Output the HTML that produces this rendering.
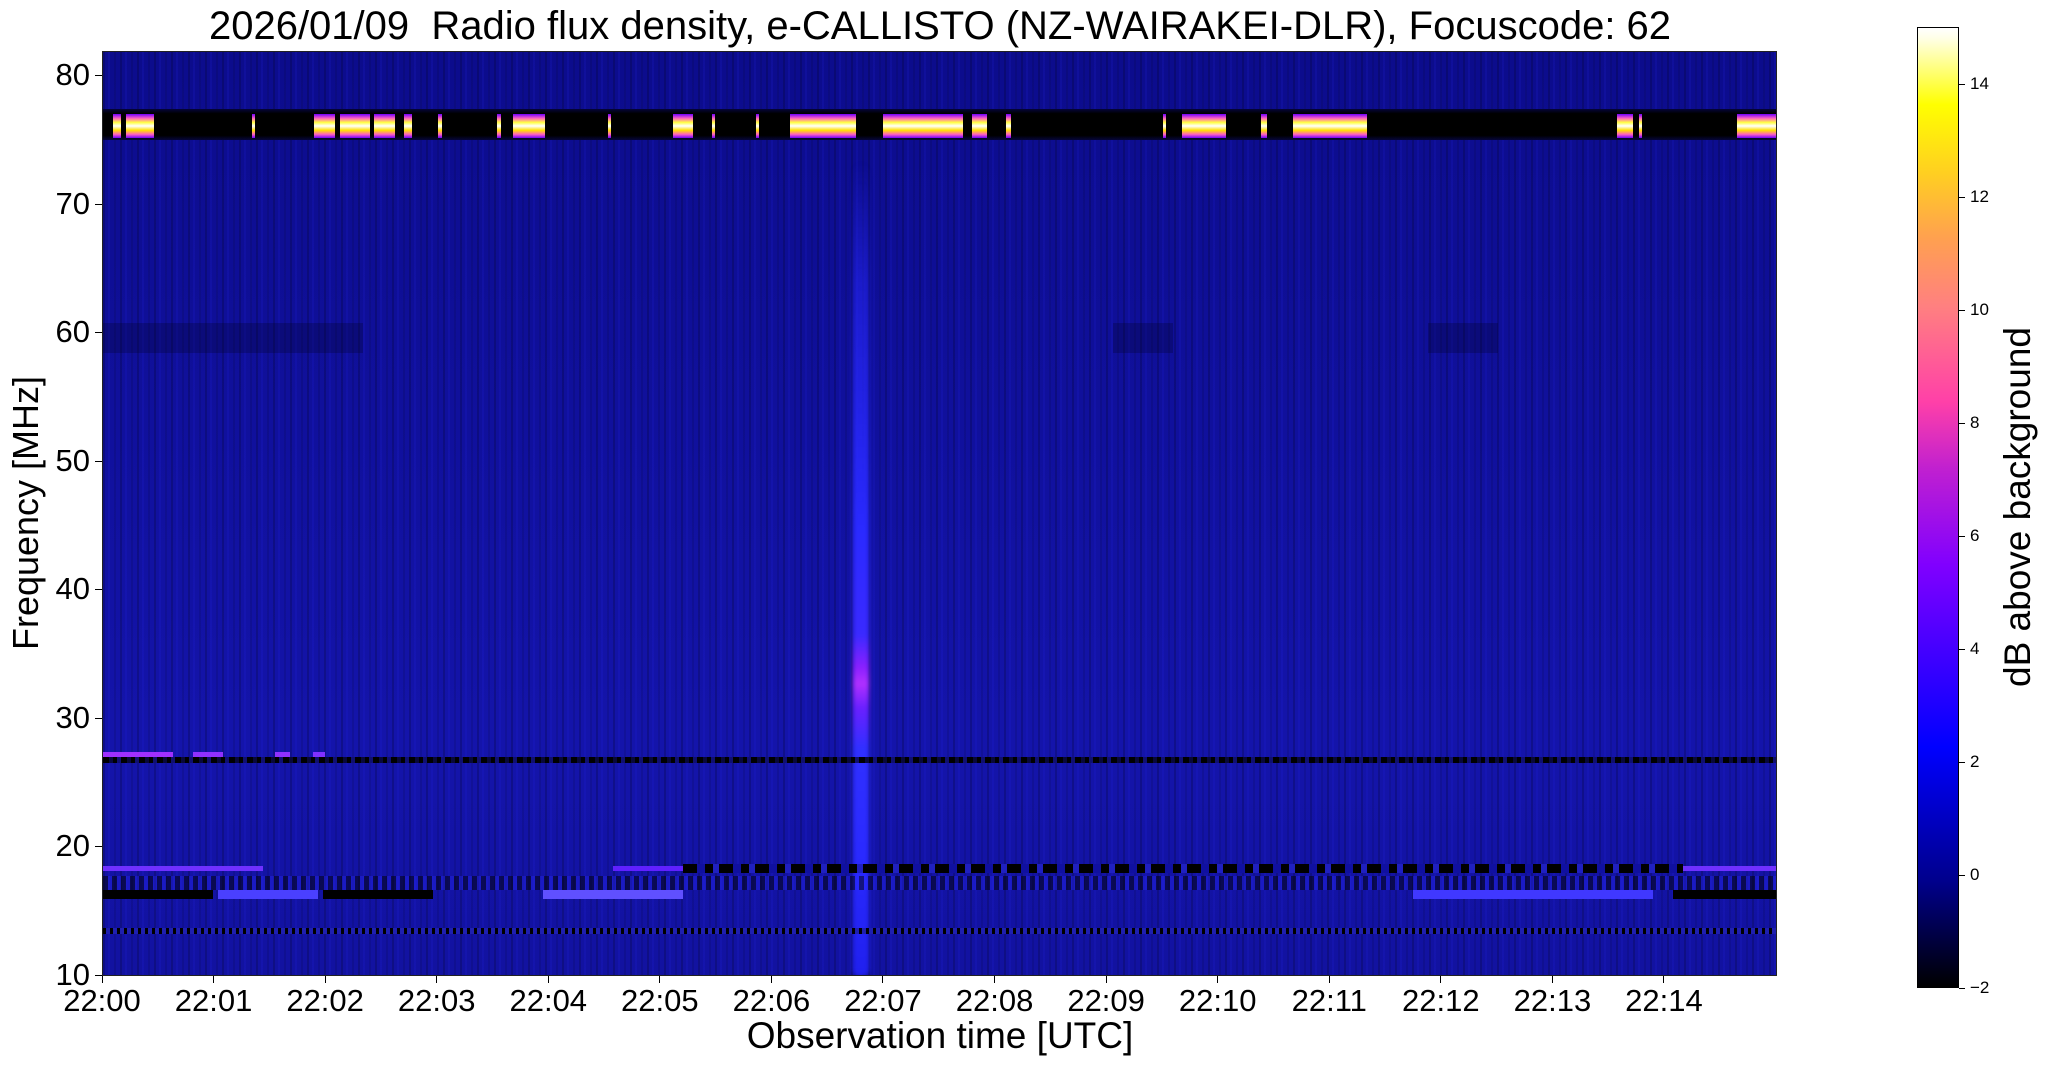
<!DOCTYPE html>
<html><head><meta charset="utf-8"><style>
body{margin:0;width:2047px;height:1067px;background:#fff;position:relative;overflow:hidden;font-family:"Liberation Sans","DejaVu Sans",sans-serif;color:#000}
.a{position:absolute}
#plot{left:102px;top:51px;width:1675px;height:925px;background:
repeating-linear-gradient(90deg,rgba(0,0,0,0.18) 0 2px,rgba(0,0,0,0) 2px 5px,rgba(40,40,255,0.12) 5px 7px,rgba(0,0,0,0) 7px 11px,rgba(0,0,0,0.1) 11px 13px,rgba(0,0,0,0) 13px 17px),
linear-gradient(180deg,#0c0c8c 0%,#10109c 40%,#1414aa 75%,#1212a0 100%);border:1px solid #222;box-sizing:border-box;overflow:hidden}
.b{position:absolute;top:62px;height:24px;background:linear-gradient(180deg,#7000ff 0%,#ff60c0 18%,#ffff40 35%,#ffffff 50%,#ffe000 68%,#ff60c0 85%,#7000ff 100%)}
.t{position:absolute;font-size:31px}
.tk{position:absolute;background:#000}
.cb{position:absolute;font-size:17px}
</style></head><body>
<div class="a" style="left:0;width:1880px;top:4px;text-align:center;font-size:40px;white-space:nowrap">2026/01/09&nbsp; Radio flux density, e-CALLISTO (NZ-WAIRAKEI-DLR), Focuscode: 62</div>
<div id="plot" class="a">
 <div class="a" style="left:0;right:0;top:57px;height:31px;background:linear-gradient(180deg,#05053a,#000 15%,#000 85%,#05053a)"></div>
 <div class="b" style="left:10px;width:8px"></div><div class="b" style="left:23px;width:28px"></div>
 <div class="b" style="left:149px;width:3px"></div><div class="b" style="left:211px;width:21px"></div>
 <div class="b" style="left:237px;width:30px"></div><div class="b" style="left:271px;width:21px"></div>
 <div class="b" style="left:301px;width:8px"></div><div class="b" style="left:335px;width:4px"></div>
 <div class="b" style="left:394px;width:4px"></div><div class="b" style="left:410px;width:32px"></div>
 <div class="b" style="left:505px;width:3px"></div><div class="b" style="left:570px;width:20px"></div>
 <div class="b" style="left:609px;width:3px"></div><div class="b" style="left:653px;width:3px"></div>
 <div class="b" style="left:687px;width:66px"></div><div class="b" style="left:780px;width:80px"></div>
 <div class="b" style="left:869px;width:15px"></div><div class="b" style="left:903px;width:5px"></div>
 <div class="b" style="left:1060px;width:3px"></div><div class="b" style="left:1079px;width:44px"></div>
 <div class="b" style="left:1158px;width:6px"></div><div class="b" style="left:1190px;width:74px"></div>
 <div class="b" style="left:1514px;width:16px"></div><div class="b" style="left:1536px;width:3px"></div>
 <div class="b" style="left:1634px;width:41px"></div>
 <div class="a" style="left:0;width:260px;top:271px;height:30px;background:rgba(0,0,30,0.25)"></div>
 <div class="a" style="left:1325px;width:70px;top:271px;height:30px;background:rgba(0,0,30,0.25)"></div>
 <div class="a" style="left:1010px;width:60px;top:271px;height:30px;background:rgba(0,0,30,0.25)"></div>
 <!-- burst -->
 <div class="a" style="left:750px;width:16px;top:110px;height:815px;border-radius:8px;filter:blur(2px);background:linear-gradient(180deg,rgba(40,40,255,0) 0%,rgba(40,40,255,0.5) 15%,#2a2aff 45%,#3a2aff 58%,#8a20ff 62%,#b030ff 64%,#6a20ff 67%,#3030ff 72%,#2a2aff 85%,#2020ee 100%)"></div>
 <!-- 26.5 MHz line -->
 <div class="a" style="left:0;right:0;top:705px;height:6px;background:repeating-linear-gradient(90deg,#000 0 6px,#08083a 6px 10px,#000 10px 14px,#101070 14px 18px)"></div>
 <div class="a" style="left:0;width:70px;top:700px;height:5px;background:#a030ff"></div>
 <div class="a" style="left:90px;width:30px;top:700px;height:5px;background:#9030ff"></div>
 <div class="a" style="left:172px;width:15px;top:700px;height:5px;background:#9030ff"></div>
 <div class="a" style="left:210px;width:12px;top:700px;height:5px;background:#8030ff"></div>
 <!-- 18 MHz band -->
 <div class="a" style="left:0;width:160px;top:814px;height:5px;background:#7030ff"></div>
 <div class="a" style="left:510px;width:80px;top:814px;height:5px;background:#6020ff"></div>
 <div class="a" style="left:1565px;width:110px;top:814px;height:5px;background:#7030ff"></div>
 <div class="a" style="left:580px;width:1000px;top:812px;height:9px;background:repeating-linear-gradient(90deg,#000 0 14px,#1010a0 14px 22px,#000 22px 30px,#2020c0 30px 36px)"></div>
 <div class="a" style="left:0;right:0;top:824px;height:14px;background:repeating-linear-gradient(90deg,rgba(0,0,0,0.5) 0 5px,rgba(40,40,255,0.35) 5px 9px)"></div>
 <!-- 16.5 MHz -->
 <div class="a" style="left:0;width:110px;top:838px;height:9px;background:#000"></div>
 <div class="a" style="left:115px;width:100px;top:838px;height:9px;background:#4a40ff"></div>
 <div class="a" style="left:220px;width:110px;top:838px;height:9px;background:#000"></div>
 <div class="a" style="left:440px;width:140px;top:838px;height:9px;background:#6050ff"></div>
 <div class="a" style="left:1310px;width:240px;top:838px;height:9px;background:#4038ff"></div>
 <div class="a" style="left:1570px;width:105px;top:838px;height:9px;background:#000"></div>
 <div class="a" style="left:0;right:0;top:876px;height:6px;background:repeating-linear-gradient(90deg,#000 0 3px,#2020b0 3px 7px)"></div>
</div>
<!-- y ticks -->
<div class="tk" style="left:95px;top:75px;width:7px;height:1px"></div>
<div class="tk" style="left:95px;top:204px;width:7px;height:1px"></div>
<div class="tk" style="left:95px;top:332px;width:7px;height:1px"></div>
<div class="tk" style="left:95px;top:461px;width:7px;height:1px"></div>
<div class="tk" style="left:95px;top:589px;width:7px;height:1px"></div>
<div class="tk" style="left:95px;top:718px;width:7px;height:1px"></div>
<div class="tk" style="left:95px;top:846px;width:7px;height:1px"></div>
<div class="tk" style="left:95px;top:975px;width:7px;height:1px"></div>
<div class="t" style="left:38px;width:52px;text-align:right;top:57px">80</div>
<div class="t" style="left:38px;width:52px;text-align:right;top:186px">70</div>
<div class="t" style="left:38px;width:52px;text-align:right;top:314px">60</div>
<div class="t" style="left:38px;width:52px;text-align:right;top:443px">50</div>
<div class="t" style="left:38px;width:52px;text-align:right;top:571px">40</div>
<div class="t" style="left:38px;width:52px;text-align:right;top:700px">30</div>
<div class="t" style="left:38px;width:52px;text-align:right;top:828px">20</div>
<div class="t" style="left:38px;width:52px;text-align:right;top:957px">10</div>
<div class="a" style="left:26px;top:513px;font-size:36px;white-space:nowrap;transform:translate(-50%,-50%) rotate(-90deg)">Frequency [MHz]</div>
<!-- x ticks -->
<div id="xt"></div>
<div class="a" style="left:940px;top:1015px;font-size:37px;white-space:nowrap;transform:translateX(-50%)">Observation time [UTC]</div>
<!-- colorbar -->
<div class="a" style="left:1917px;top:27px;width:42px;height:961px;border:1px solid #000;box-sizing:border-box;background:linear-gradient(0deg,#000 0%,#00008c 11%,#0000ff 25%,#5000ff 37%,#8000ff 44%,#c020d0 54%,#ff40a8 61%,#ff8080 71%,#ffa050 78%,#ffd020 85%,#ffff00 92%,#ffffe8 99%,#fff 100%)"></div>
<div id="cb"></div>
<div class="a" style="left:2018px;top:507px;font-size:37px;white-space:nowrap;transform:translate(-50%,-50%) rotate(-90deg)">dB above background</div>
<script>
var h='';
for(var i=0;i<15;i++){var x=102+i*111.57;
h+='<div class="tk" style="left:'+(x-0.5)+'px;top:976px;width:1px;height:7px"></div>';
h+='<div class="t" style="left:'+(x-60)+'px;width:120px;text-align:center;top:983px">22:'+(i<10?'0':'')+i+'</div>';}
document.getElementById('xt').innerHTML=h;
var c='';
for(var v=-2;v<=14;v+=2){var y=988-(v+2)*56.53;
c+='<div class="tk" style="left:1959px;top:'+y+'px;width:6px;height:1px"></div>';
c+='<div class="cb" style="left:1970px;top:'+(y-10)+'px">'+(v<0?'\u2212'+(-v):v)+'</div>';}
document.getElementById('cb').innerHTML=c;
</script>
</body></html>
